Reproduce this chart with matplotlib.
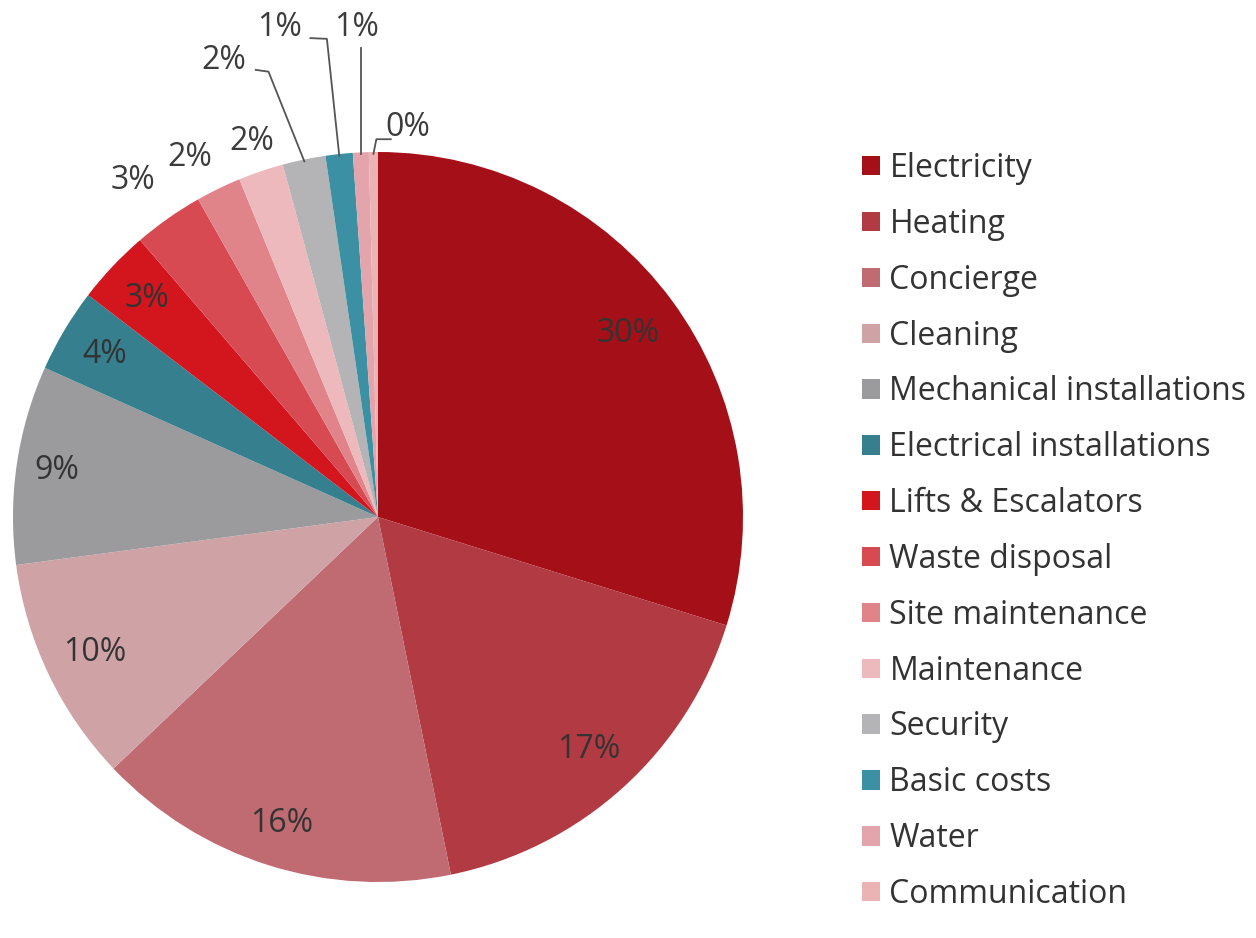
import numpy as np
import matplotlib.pyplot as plt

plt.rcParams['font.family'] = ['Open Sans', 'DejaVu Sans']

categories = ['Electricity', 'Heating', 'Concierge', 'Cleaning',
              'Mechanical installations', 'Electrical installations',
              'Lifts & Escalators', 'Waste disposal', 'Site maintenance',
              'Maintenance', 'Security', 'Basic costs', 'Water', 'Communication']
shares = [29.8, 17.0, 16.1, 10.0, 8.8, 3.7, 3.3, 3.1, 2.0, 2.0, 1.9, 1.2, 0.7, 0.4]
colors = ['#a50f17', '#b23a42', '#c06a72', '#cfa2a6', '#9b9b9d', '#357f8f',
          '#d3161e', '#d84a52', '#e0848a', '#edb9bd', '#b4b4b6', '#3b90a4',
          '#e3a5ab', '#ebb3b3']

# label placement (radius in units of pie radius)
inside_r = [0.85, 0.86, 0.88, 0.86, 0.89, 0.87, 0.87]
outside_pos = {7: (-0.671, 0.921), 8: (-0.515, 0.984), 9: (-0.345, 1.030)}
leader_labels = {
    10: [(-0.422, 1.252), [(-0.335, 1.225), (-0.30, 1.22)]],
    11: [(-0.271, 1.340), [(-0.185, 1.312), (-0.14, 1.31)]],
    12: [(-0.058, 1.340), None],
    13: [(0.082, 1.066), None],
}

fig = plt.figure(figsize=(12.56, 9.38), dpi=100)
ax = fig.add_axes([0, 0, 756 / 1256, 1])

wedges, _ = ax.pie(shares, colors=colors, startangle=90, counterclock=False,
                   radius=1.0, wedgeprops=dict(linewidth=0))
ax.set_xlim(-1.0356, 1.0356)
ax.set_ylim(-1.1534, 1.4164)
ax.set_aspect('equal')
ax.axis('off')

txt_color = '#3c3c3c'
fs = 23
for i, w in enumerate(wedges):
    mid = np.deg2rad((w.theta1 + w.theta2) / 2)
    label = f'{shares[i]:.0f}%'
    if i < len(inside_r):
        r = inside_r[i]
        ax.text(r * np.cos(mid), r * np.sin(mid), label, ha='center', va='center',
                fontsize=fs, color='#333333')
    elif i in outside_pos:
        x, y = outside_pos[i]
        ax.text(x, y, label, ha='center', va='center', fontsize=fs, color=txt_color)
    else:
        (tx, ty), pts = leader_labels[i]
        ax.text(tx, ty, label, ha='center', va='center', fontsize=fs, color=txt_color)
        ex, ey = 0.995 * np.cos(mid), 0.995 * np.sin(mid)
        if i == 12:
            xs = [ex, ex]
            ys = [ey, 1.285]
        elif i == 13:
            xs = [ex, ex + 0.008, 0.035]
            ys = [ey, 1.035, 1.035]
        else:
            xs = [pts[0][0], pts[1][0], ex]
            ys = [pts[0][1], pts[1][1], ey]
        ax.plot(xs, ys, color='#555555', linewidth=1.3)

fig.legend(wedges, categories, loc='upper left', bbox_to_anchor=(862 / 1256, 1 - 152 / 938),
           frameon=False, fontsize=fs, handlelength=0.56, handleheight=0.56,
           handletextpad=0.3, labelspacing=0.715, borderpad=0, borderaxespad=0,
           labelcolor='#333333')

fig.savefig('out.png', dpi=100, facecolor='white')
